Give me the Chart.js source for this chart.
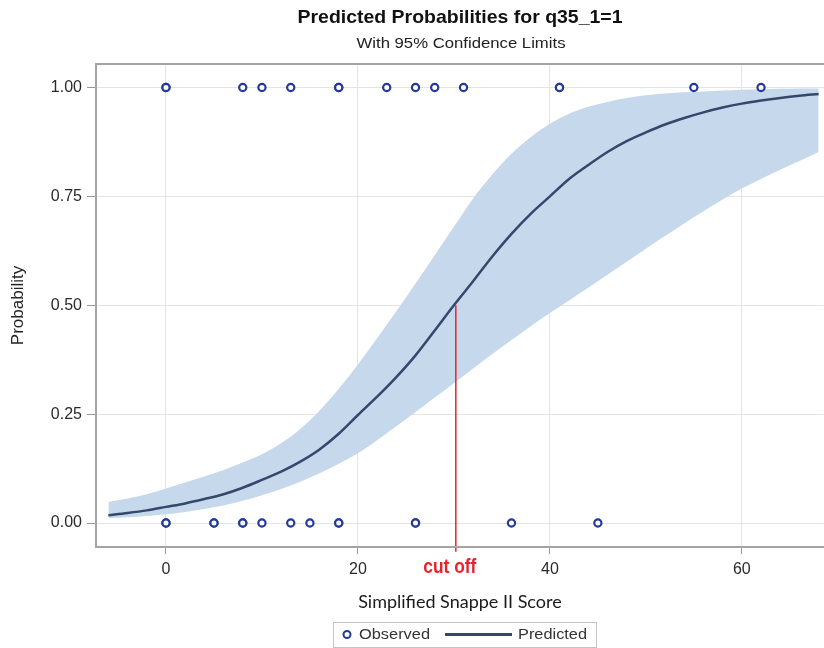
<!DOCTYPE html>
<html>
<head>
<meta charset="utf-8">
<script src="https://cdn.jsdelivr.net/npm/chart.js@4.4.1/dist/chart.umd.min.js"></script>
<style>
html,body{margin:0;padding:0;background:#fff;overflow:hidden;}
#wrap{width:824px;height:648px;position:relative;overflow:hidden;}
</style>
</head>
<body>
<div id="wrap"><canvas id="c" width="830" height="648"></canvas></div>
<script>
// ---- data ----
const scoreGrid = [-6,-4,-2,0,2,4,6,8,10,12,14,16,18,20,22,24,26,28,30,32,34,36,38,40,42,44,46,48,50,52,54,56,58,60,62,64,66,68];
const predicted = [0.018,0.023,0.029,0.037,0.045,0.055,0.066,0.081,0.099,0.118,0.141,0.169,0.205,0.248,0.290,0.335,0.385,0.442,0.500,0.555,0.612,0.664,0.710,0.750,0.790,0.822,0.852,0.877,0.897,0.915,0.930,0.943,0.954,0.963,0.970,0.976,0.981,0.985];
const upperCL = [0.048,0.056,0.066,0.079,0.093,0.107,0.122,0.139,0.158,0.183,0.216,0.258,0.308,0.364,0.424,0.486,0.550,0.615,0.680,0.745,0.800,0.848,0.886,0.917,0.940,0.956,0.967,0.976,0.982,0.986,0.989,0.991,0.993,0.995,0.996,0.997,0.998,0.998];
const lowerCL = [0.011,0.013,0.016,0.020,0.025,0.032,0.040,0.051,0.064,0.078,0.095,0.114,0.136,0.160,0.190,0.222,0.255,0.288,0.321,0.355,0.388,0.420,0.452,0.482,0.511,0.540,0.570,0.600,0.630,0.659,0.688,0.716,0.743,0.768,0.790,0.811,0.831,0.852];
const observedOneX = [0,0,8,10,13,18,18,23,26,28,31,41,41,55,62];
const observedZeroX = [0,0,5,5,8,8,10,13,15,18,18,26,26,36,45];
const xTicks = [0,20,40,60];
const yTicks = [0,0.25,0.5,0.75,1];
const cutoffScore = 30.2;
const cutoffProb = 0.5;
const titleText = "Predicted Probabilities for q35_1=1";
const subtitleText = "With 95% Confidence Limits";
const xTitle = "Simplified Snappe II Score";
const yTitle = "Probability";
const cutoffLabel = "cut off";
const legendLabels = ["Observed", "Predicted"];

// ---- styles ----
const bandColor = '#c6d8ec';
const lineColor = '#34486b';
const markerColor = '#233a98';
const redColor = '#e8232c';
const gridColor = '#e4e4e4';
const frameColor = '#a4a4a4';

const pts = (xs, ys) => xs.map((x, i) => ({x: x, y: ys[i]}));
const observedPts = observedOneX.map(x => ({x: x, y: 1})).concat(observedZeroX.map(x => ({x: x, y: 0})));

function drawNarrow(ctx, text, font, color, cx, cy, targetW, align) {
  ctx.save();
  ctx.font = font;
  ctx.fillStyle = color;
  ctx.textBaseline = 'middle';
  const w = ctx.measureText(text).width;
  const sx = targetW ? targetW / w : 1;
  ctx.translate(cx, cy);
  ctx.scale(sx, 1);
  ctx.textAlign = align || 'center';
  ctx.fillText(text, 0, 0);
  ctx.restore();
}

const decor = {
  id: 'decor',
  afterDraw(chart) {
    const ctx = chart.ctx;
    const a = chart.chartArea;
    const xs = chart.scales.x;
    ctx.save();
    ctx.strokeStyle = frameColor;
    ctx.lineWidth = 2;
    ctx.beginPath();
    ctx.moveTo(a.right + 10, a.top); ctx.lineTo(a.left, a.top); ctx.lineTo(a.left, a.bottom); ctx.lineTo(a.right + 10, a.bottom);
    ctx.stroke();
    ctx.restore();
    drawNarrow(ctx, titleText, "bold 19px 'Liberation Sans', Arial, sans-serif", '#111', 460, 18, 325);
    drawNarrow(ctx, subtitleText, "14px 'Liberation Sans', Arial, sans-serif", '#222', 461, 44, 209);
    drawNarrow(ctx, cutoffLabel, "bold 21px 'Liberation Sans', Arial, sans-serif", redColor, xs.getPixelForValue(cutoffScore) - 6, 567, 53);
    const lx = 333, ly = 622, lw = 263, lh = 25;
    ctx.save();
    ctx.strokeStyle = '#c4c4c4';
    ctx.lineWidth = 1;
    ctx.strokeRect(lx + 0.5, ly + 0.5, lw, lh);
    ctx.beginPath();
    ctx.arc(347, 634.5, 3.5, 0, Math.PI * 2);
    ctx.fillStyle = '#fff';
    ctx.fill();
    ctx.lineWidth = 2;
    ctx.strokeStyle = markerColor;
    ctx.stroke();
    ctx.beginPath();
    ctx.moveTo(445, 634.5); ctx.lineTo(512, 634.5);
    ctx.lineWidth = 3;
    ctx.strokeStyle = lineColor;
    ctx.stroke();
    ctx.restore();
    drawNarrow(ctx, legendLabels[0], "15px 'Liberation Sans', Arial, sans-serif", '#333', 359, 635, 71, 'left');
    drawNarrow(ctx, legendLabels[1], "15px 'Liberation Sans', Arial, sans-serif", '#333', 518, 635, 69, 'left');
  }
};

new Chart(document.getElementById('c'), {
  type: 'scatter',
  data: {
    datasets: [
      { type: 'line', label: 'Upper', data: pts(scoreGrid, upperCL), borderWidth: 0, pointRadius: 0,
        backgroundColor: bandColor, fill: '+1', cubicInterpolationMode: 'monotone', order: 5 },
      { type: 'line', label: 'Lower', data: pts(scoreGrid, lowerCL), borderWidth: 0, pointRadius: 0,
        backgroundColor: bandColor, fill: false, cubicInterpolationMode: 'monotone', order: 5 },
      { type: 'line', label: 'Predicted', data: pts(scoreGrid, predicted), borderColor: lineColor, borderWidth: 2.5,
        pointRadius: 0, fill: false, cubicInterpolationMode: 'monotone', order: 3 },
      { type: 'line', label: 'Cutoff', data: [{x: cutoffScore, y: cutoffProb}, {x: cutoffScore, y: -0.066}],
        borderColor: redColor, borderWidth: 1.5, pointRadius: 0, fill: false, clip: false, order: 2 },
      { type: 'scatter', label: 'Observed', data: observedPts, pointStyle: 'circle', pointRadius: 3.6,
        borderWidth: 2.2, borderColor: markerColor, backgroundColor: '#ffffff', order: 1 }
    ]
  },
  options: {
    responsive: false,
    animation: false,
    devicePixelRatio: 1,
    layout: { padding: { top: 64, right: 0, bottom: 31, left: 0 } },
    plugins: { legend: { display: false }, title: { display: false }, tooltip: { enabled: false } },
    scales: {
      x: {
        type: 'linear', min: -7.29, max: 68.54,
        afterBuildTicks: s => { s.ticks = xTicks.map(v => ({value: v})); },
        afterFit: s => { s.height = 70; },
        grid: { color: gridColor, tickColor: '#999', tickLength: 7, drawTicks: true },
        border: { display: false },
        ticks: { color: '#2a2a2a', font: { family: "'Liberation Sans', Arial, sans-serif", size: 16 }, padding: 6,
          maxRotation: 0, autoSkip: false, callback: v => String(v) },
        title: { display: true, text: xTitle, color: '#1a1a1a', font: { family: "Lato, 'Open Sans', sans-serif", size: 18 },
          padding: { top: 0, bottom: 4 } }
      },
      y: {
        type: 'linear', min: -0.0551, max: 1.054,
        afterBuildTicks: s => { s.ticks = yTicks.map(v => ({value: v})); },
        afterFit: s => { s.width = 96; },
        grid: { color: gridColor, tickColor: '#999', tickLength: 9, drawTicks: true },
        border: { display: false },
        ticks: { color: '#2a2a2a', font: { family: "'Liberation Sans', Arial, sans-serif", size: 16 }, padding: 5,
          autoSkip: false, callback: v => Number(v).toFixed(2) },
        title: { display: true, text: yTitle, color: '#222', font: { family: "'Liberation Sans', Arial, sans-serif", size: 17 },
          padding: { top: 8, bottom: 0 } }
      }
    }
  },
  plugins: [decor]
});
</script>
</body>
</html>
